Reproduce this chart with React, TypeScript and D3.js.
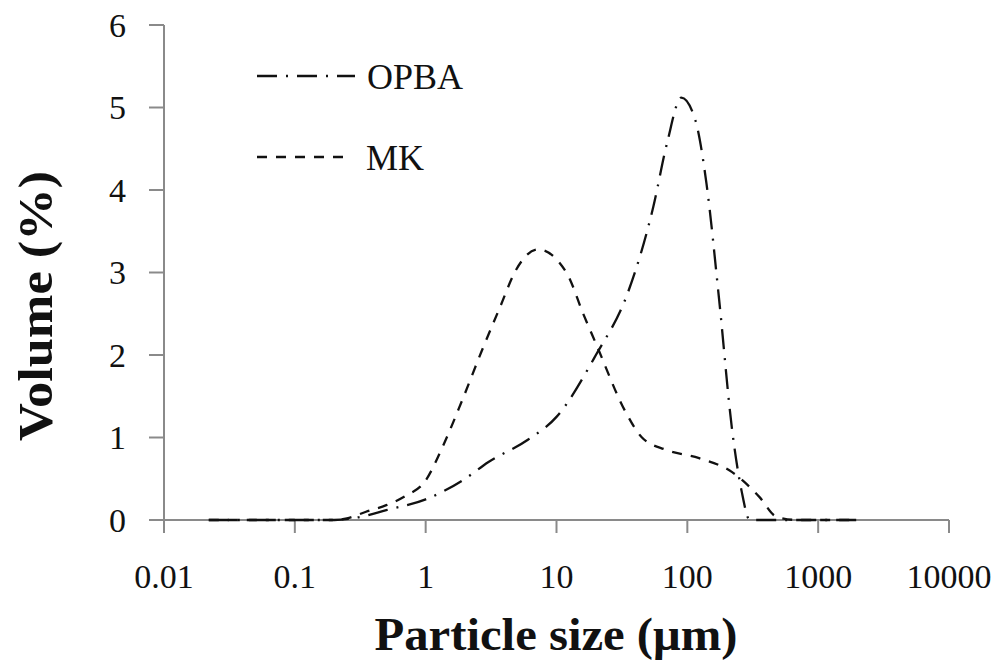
import React from 'react';
import * as d3 from 'd3';

// particle size (µm) and volume (%)
const opbaSize = [0.022, 0.05, 0.1, 0.2, 0.3, 0.5, 1, 2, 3, 6, 10, 20, 35, 55, 70, 90, 115, 140, 175, 220, 260, 300, 500, 1000, 2000];
const opbaVolume = [0, 0, 0, 0, 0.03, 0.12, 0.25, 0.5, 0.7, 0.97, 1.25, 2.0, 2.75, 3.8, 4.57, 5.12, 4.85, 4.08, 2.67, 1.09, 0.35, 0, 0, 0, 0];

const mkSize = [0.022, 0.05, 0.1, 0.2, 0.25, 0.35, 0.5, 0.7, 1, 1.35, 1.9, 2.7, 3.7, 4.9, 7.2, 12, 16, 20, 34, 45, 69, 123, 220, 355, 480, 700, 1000, 2000];
const mkVolume = [0, 0, 0, 0, 0.02, 0.1, 0.18, 0.29, 0.48, 0.89, 1.45, 2.06, 2.58, 3.03, 3.28, 2.99, 2.5, 2.14, 1.3, 1.0, 0.85, 0.75, 0.58, 0.28, 0.04, 0, 0, 0];

const xTicks = [0.01, 0.1, 1, 10, 100, 1000, 10000];
const xTickLabels = ['0.01', '0.1', '1', '10', '100', '1000', '10000'];
const yTicks = [0, 1, 2, 3, 4, 5, 6];

const seriesNames = ['OPBA', 'MK'];

const App = () => {
  const width = 1002;
  const height = 668;
  const x = d3.scaleLog().domain([0.01, 10000]).range([164, 949]);
  const y = d3.scaleLinear().domain([0, 6]).range([520, 25]);

  const line = d3
    .line<[number, number]>()
    .x((d) => x(d[0]))
    .y((d) => y(d[1]))
    .curve(d3.curveMonotoneX);

  const opba = opbaSize.map((s, i) => [s, opbaVolume[i]] as [number, number]);
  const mk = mkSize.map((s, i) => [s, mkVolume[i]] as [number, number]);

  const axisColor = '#8a8a8a';
  const font = '"Liberation Serif", "Times New Roman", serif';
  const opbaDash = '20,9,2,9';
  const mkDash = '10,9';

  return (
    <svg
      width={width}
      height={height}
      style={{ position: 'absolute', left: 0, top: 0, background: '#fff' }}
      fontFamily={font}
    >
      {/* axes */}
      <line x1={x(0.01)} x2={x(10000)} y1={y(0)} y2={y(0)} stroke={axisColor} strokeWidth={2} />
      <line x1={x(0.01)} x2={x(0.01)} y1={y(0)} y2={y(6)} stroke={axisColor} strokeWidth={2} />
      {xTicks.map((t, i) => (
        <g key={'xt' + i}>
          <line x1={x(t)} x2={x(t)} y1={y(0)} y2={y(0) + 13} stroke={axisColor} strokeWidth={2} />
          <text x={x(t)} y={588} textAnchor="middle" fontSize={34} fill="#111">
            {xTickLabels[i]}
          </text>
        </g>
      ))}
      {yTicks.map((t) => (
        <g key={'yt' + t}>
          <line x1={x(0.01) - 15} x2={x(0.01)} y1={y(t)} y2={y(t)} stroke={axisColor} strokeWidth={2} />
          <text x={126} y={y(t)} dy="0.34em" textAnchor="end" fontSize={34} fill="#111">
            {t}
          </text>
        </g>
      ))}

      {/* series */}
      <path d={line(opba) || ''} fill="none" stroke="#111" strokeWidth={2.3} strokeDasharray={opbaDash} />
      <path d={line(mk) || ''} fill="none" stroke="#111" strokeWidth={2.3} strokeDasharray={mkDash} />

      {/* legend */}
      <line x1={257} x2={355} y1={76} y2={76} stroke="#111" strokeWidth={2.3} strokeDasharray={opbaDash} />
      <text x={367} y={76} dy="0.35em" fontSize={36} fill="#111">{seriesNames[0]}</text>
      <line x1={257} x2={345} y1={157} y2={157} stroke="#111" strokeWidth={2.3} strokeDasharray={mkDash} />
      <text x={366} y={157} dy="0.35em" fontSize={36} fill="#111">{seriesNames[1]}</text>

      {/* titles */}
      <text
        x={556}
        y={650}
        textAnchor="middle"
        fontSize={46}
        fontWeight="bold"
        fill="#111"
        textLength={363}
        lengthAdjust="spacingAndGlyphs"
      >
        Particle size (μm)
      </text>
      <text
        transform="translate(52,306) rotate(-90)"
        textAnchor="middle"
        fontSize={48}
        fontWeight="bold"
        fill="#111"
        textLength={270}
        lengthAdjust="spacingAndGlyphs"
      >
        Volume (%)
      </text>
    </svg>
  );
};

export default App;
